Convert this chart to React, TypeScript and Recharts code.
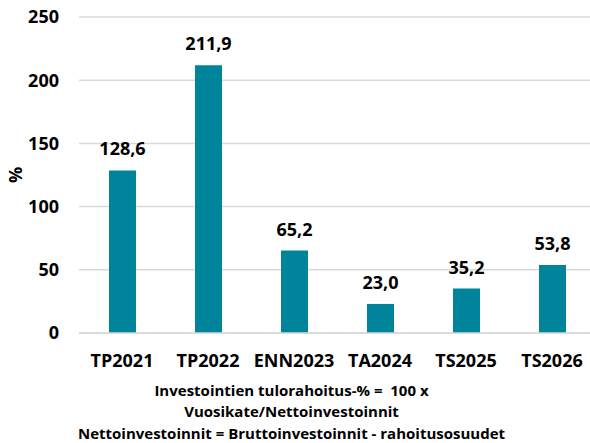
import React from "react";
import { BarChart, Bar, XAxis, YAxis, CartesianGrid, LabelList, Label } from "recharts";

const categories = ["TP2021", "TP2022", "ENN2023", "TA2024", "TS2025", "TS2026"];
const values = [128.6, 211.9, 65.2, 23.0, 35.2, 53.8];
const yTicks = [0, 50, 100, 150, 200, 250];
const footerLines = [
  "Investointien tulorahoitus-% =  100 x",
  "Vuosikate/Nettoinvestoinnit",
  "Nettoinvestoinnit = Bruttoinvestoinnit - rahoitusosuudet",
];

const FONT = "'Open Sans', 'Noto Sans', sans-serif";
const BAR_COLOR = "#00849b";
const GRID_COLOR = "#d9d9d9";

const data = categories.map((name, i) => ({ name, value: values[i] }));

const fmt = (v: number) => v.toFixed(1).replace(".", ",");

export default function App() {
  return (
    <div
      style={{
        position: "absolute",
        left: 0,
        top: 0,
        width: 590,
        height: 443,
        overflow: "hidden",
        background: "#fff",
        fontFamily: FONT,
      }}
    >
      <BarChart
        width={595}
        height={443}
        data={data}
        margin={{ top: 17, right: 0, left: 0, bottom: 0 }}
        barCategoryGap={0}
      >
        <CartesianGrid vertical={false} stroke={GRID_COLOR} strokeWidth={1.5} />
        <XAxis
          dataKey="name"
          height={110}
          tickLine={false}
          tickMargin={15}
          axisLine={{ stroke: GRID_COLOR, strokeWidth: 1.5 }}
          tick={{ fontSize: 18, fontWeight: 700, fill: "#000", fontFamily: FONT }}
          interval={0}
        />
        <YAxis
          width={79}
          domain={[0, 250]}
          ticks={yTicks}
          axisLine={false}
          tickLine={false}
          tickMargin={14}
          tick={{ fontSize: 18, fontWeight: 700, fill: "#000", fontFamily: FONT }}
        >
          <Label
            content={({ viewBox }: any) => {
              const cx = (viewBox?.x ?? 0) + 15;
              const cy = (viewBox?.y ?? 0) + (viewBox?.height ?? 0) / 2;
              return (
                <text
                  x={cx}
                  y={cy}
                  transform={`rotate(-90 ${cx} ${cy})`}
                  textAnchor="middle"
                  dominantBaseline="central"
                  fontSize={18}
                  fontWeight={700}
                  fontFamily={FONT}
                  fill="#000"
                >
                  %
                </text>
              );
            }}
          />
        </YAxis>
        <Bar dataKey="value" fill={BAR_COLOR} barSize={27} isAnimationActive={false}>
          <LabelList
            dataKey="value"
            position="top"
            offset={15}
            formatter={(v: any) => fmt(Number(v))}
            style={{ fontSize: 18, fontWeight: 700, fill: "#000", fontFamily: FONT }}
          />
        </Bar>
      </BarChart>
      <div
        style={{
          position: "absolute",
          left: 0,
          width: 583,
          top: 380,
          textAlign: "center",
          fontSize: 15,
          fontWeight: 700,
          lineHeight: "21.3px",
          color: "#000",
        }}
      >
        {footerLines.map((line) => (
          <div key={line} style={{ whiteSpace: "pre" }}>
            {line}
          </div>
        ))}
      </div>
    </div>
  );
}
